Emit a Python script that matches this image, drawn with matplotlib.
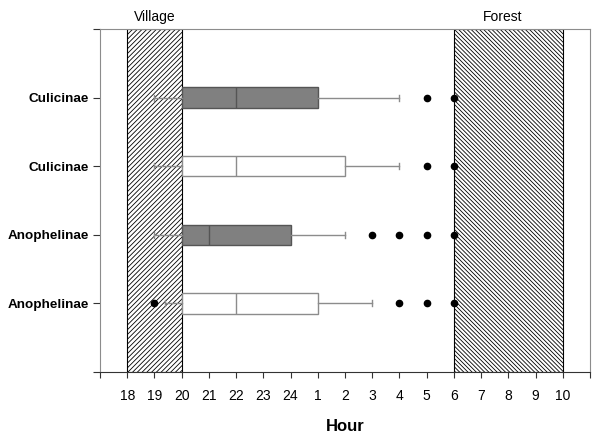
import matplotlib.pyplot as plt
from matplotlib.patches import Rectangle

plt.rcParams['font.family'] = ['Liberation Sans', 'DejaVu Sans']
plt.rcParams['hatch.linewidth'] = 0.6

# ----------------------------
# Data (hours on a continuous scale, 25 = 1 am, 30 = 6 am ...)
# ----------------------------
groups = ["Anophelinae", "Anophelinae", "Culicinae", "Culicinae"]
shaded = [False, True, False, True]
whis_lo = [19.4, 19, 19, 19]
q1 = [20, 20, 20, 20]
med = [22, 21, 22, 22]
q3 = [25, 24, 26, 25]
whis_hi = [27, 26, 28, 28]
fliers = [[19, 28, 29, 30], [27, 28, 29, 30], [29, 30], [29, 30]]

hour_ticks = list(range(17, 36))
hour_labels = ["" if h in (17, 35) else str(h if h <= 24 else h - 24) for h in hour_ticks]

village = (18, 20)
forest = (30, 34)

# ----------------------------
# Plot
# ----------------------------
fig = plt.figure(figsize=(6, 4.36), dpi=100)
ax = fig.add_axes([100 / 600, 1 - 372 / 436, 490 / 600, 343 / 436])

ax.add_patch(Rectangle((village[0], 0), village[1] - village[0], 5, fill=False,
                       hatch='///////', edgecolor='black', linewidth=0.8, zorder=1))
ax.add_patch(Rectangle((forest[0], 0), forest[1] - forest[0], 5, fill=False,
                       hatch='\\' * 8, edgecolor='black', linewidth=0.8, zorder=1))

for i in range(len(groups)):
    stats = [dict(whislo=whis_lo[i], q1=q1[i], med=med[i], q3=q3[i],
                  whishi=whis_hi[i], fliers=fliers[i])]
    face = '#808080' if shaded[i] else 'white'
    edge = '#555555' if shaded[i] else '#8c8c8c'
    ax.bxp(stats, positions=[i + 1], vert=False, widths=0.3, patch_artist=True,
           capwidths=0.09, manage_ticks=False, zorder=3,
           boxprops=dict(facecolor=face, edgecolor=edge, linewidth=1),
           medianprops=dict(color=edge, linewidth=1),
           whiskerprops=dict(color='#8c8c8c', linewidth=1),
           capprops=dict(color='#8c8c8c', linewidth=1),
           flierprops=dict(marker='o', markerfacecolor='black', markeredgecolor='black',
                           markersize=4.5))

ax.set_xlim(17, 35)
ax.set_ylim(0, 5)
ax.set_xticks(hour_ticks)
ax.set_xticklabels(hour_labels, fontsize=10)
ax.set_yticks(range(0, 6))
ax.set_yticklabels([""] + groups + [""], fontsize=9.7, fontweight='bold')
ax.tick_params(axis='x', length=4, color='#333333', pad=8)
ax.tick_params(axis='y', length=5, color='#333333', pad=3)

for side in ['left', 'right', 'top']:
    ax.spines[side].set_color('#8c8c8c')
ax.spines['bottom'].set_color('#333333')

ax.set_xlabel('Hour', fontsize=12, fontweight='bold', labelpad=12)
ax.text(19, 5.08, 'Village', ha='center', va='bottom', fontsize=10)
ax.text(31.8, 5.08, 'Forest', ha='center', va='bottom', fontsize=10)

plt.savefig("out.png", dpi=100)
